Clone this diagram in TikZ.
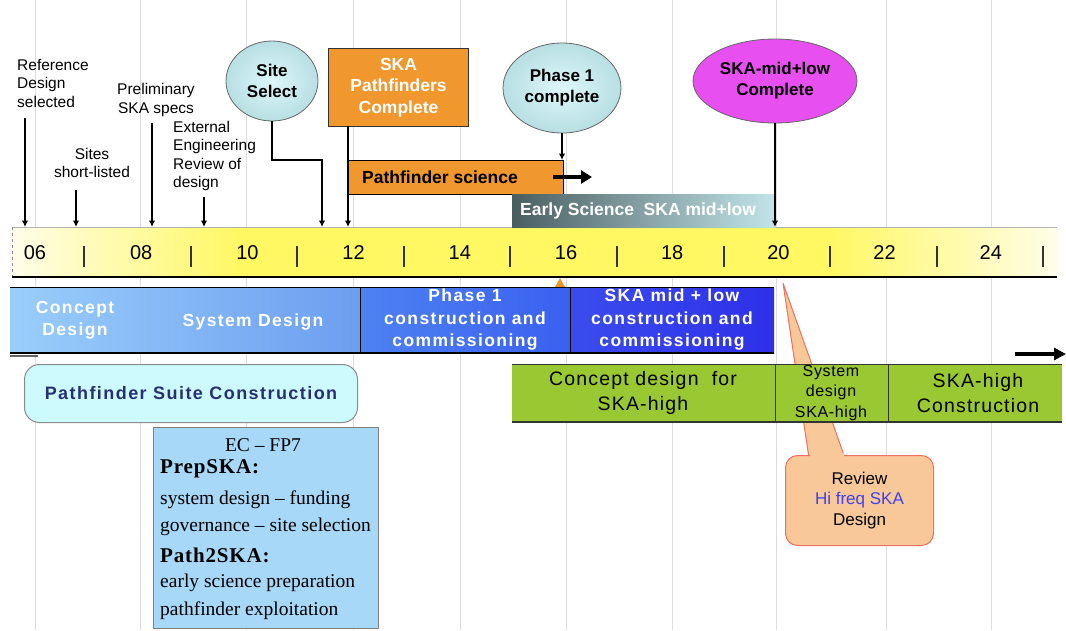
\documentclass[tikz,border=0pt]{standalone}
\usepackage{fontspec}
\setmainfont{Liberation Sans}
\newfontfamily\serifface[Ligatures=TeX]{Liberation Serif}
\usetikzlibrary{arrows.meta,shapes.geometric}
\definecolor{ylw}{HTML}{FFF862}
\definecolor{ylpale}{HTML}{FFFDE8}
\definecolor{orng}{HTML}{F0982E}
\definecolor{cyanlt}{HTML}{B8DFE3}
\definecolor{cyanhi}{HTML}{DDF7FA}
\definecolor{magent}{HTML}{E84FF0}
\definecolor{slate}{HTML}{4A5E62}
\definecolor{slatelt}{HTML}{C2E5E9}
\definecolor{blueA}{HTML}{9ACEFA}
\definecolor{blueB}{HTML}{6C9EF0}
\definecolor{blueC}{HTML}{4E82F2}
\definecolor{blueD}{HTML}{3A60F0}
\definecolor{blueE}{HTML}{3A4CEE}
\definecolor{blueF}{HTML}{2E30E8}
\definecolor{suite}{HTML}{CCFAFD}
\definecolor{suitetx}{HTML}{283070}
\definecolor{grn}{HTML}{9AC832}
\definecolor{ecblue}{HTML}{A8D8F8}
\definecolor{peach}{HTML}{F8C898}
\definecolor{salmon}{HTML}{F07060}
\definecolor{hiblue}{HTML}{4040F0}
\definecolor{gridc}{HTML}{DDDDDD}
\pgfdeclarehorizontalshading{tlshade}{100bp}{color(0bp)=(ylpale); color(25bp)=(ylpale); color(36bp)=(ylw); color(64bp)=(ylw); color(75bp)=(ylpale); color(100bp)=(ylpale)}
\begin{document}
\begin{tikzpicture}[x=1pt,y=-1pt,
  arr/.style={line width=1.6pt,-{Latex[length=6.5pt,width=6.5pt]}},
  toplbl/.style={inner sep=0pt,font=\fontsize{15.5}{18.5}\selectfont},
  bub/.style={ellipse,draw=black!60,line width=0.8pt,inner sep=0pt,align=center,font=\bfseries\fontsize{17}{21}\selectfont},
  barbox/.style={anchor=north west,minimum height=66pt,inner sep=0pt},
  bartx/.style={text=white,align=center,inner sep=0pt,font=\bfseries\fontsize{17.5}{22.5}\selectfont\addfontfeatures{LetterSpace=8}},
  grntx/.style={align=center,inner sep=0pt,font=\fontsize{19.5}{25}\selectfont\addfontfeatures{LetterSpace=6}},
  yr/.style={inner sep=0pt,font=\fontsize{20}{20}\selectfont},
  ectx/.style={anchor=west,inner sep=0pt,font=\serifface\fontsize{19.5}{22}\selectfont},
  ecbold/.style={anchor=west,inner sep=0pt,font=\serifface\bfseries\fontsize{21}{22}\selectfont\addfontfeatures{LetterSpace=4}},
]
\useasboundingbox (0,0) rectangle (1066,630);
\fill[white] (0,0) rectangle (1066,630);
% faint grid
\foreach \x in {35,140,246,353,460,566,672,776,886,991}
  \draw[gridc,line width=1pt] (\x,0) -- (\x,630);

% timeline
\node[anchor=north west,minimum width=1045pt,minimum height=50pt,inner sep=0pt,shading=tlshade,shade] (tl) at (12,227) {};
\draw[black!30] (tl.north west) -- (tl.north east);
\draw[black!45,dashed] (tl.north west) -- (tl.south west);
\draw[line width=2pt] (tl.south west) -- (tl.south east);
\foreach \y [count=\i from 0] in {06,08,10,12,14,16,18,20,22,24}
  \node[yr] (yr\y) at ({35+106.2*\i},253) {\y};
\foreach \i in {0,...,9}
  \draw[line width=2pt,black!80] ({84+106.6*\i},246) -- ++(0,21);

% top labels
\node[toplbl,anchor=west,align=left] (ref) at (17,83) {Reference\\Design\\selected};
\node[toplbl,align=center] (sites) at (92,163) {Sites\\short-listed};
\node[toplbl,align=center] (prel) at (156,100) {Preliminary\\SKA specs};
\node[toplbl,anchor=west,align=left] (ext) at (173,156) {External\\Engineering\\Review of\\design};
\coordinate (refa) at (25,118);
\coordinate (sitesa) at (76,190);
\coordinate (prela) at (152,123);
\coordinate (exta) at (204,197);
\draw[arr] (refa) -- (refa |- tl.north);
\draw[arr] (sitesa) -- (sitesa |- tl.north);
\draw[arr] (prela) -- (prela |- tl.north);
\draw[arr] (exta) -- (exta |- tl.north);

% Site select
\node[bub,inner color=cyanhi,outer color=cyanlt,minimum width=92pt,minimum height=80pt] (site) at (272,81) {Site\\Select};
\coordinate (sitebend) at (322,160);
\draw[arr] (site.south) |- (sitebend) -- (sitebend |- tl.north);

% Pathfinders complete
\node[draw=black!80,line width=1pt,fill=orng,minimum width=140pt,minimum height=78pt,inner sep=0pt,anchor=north west,text=white,align=center,font=\bfseries\fontsize{17.5}{21.5}\selectfont] (pfc) at (328,48) {SKA\\Pathfinders\\Complete};

% Pathfinder science
\node[draw=black,line width=1.4pt,fill=orng,minimum width=215pt,minimum height=34pt,inner sep=0pt,anchor=north west] (pfs) at (348,160) {};
\node[anchor=west,inner sep=0pt,font=\bfseries\fontsize{17.5}{20}\selectfont] (pfst) at (362,177) {Pathfinder science};
\coordinate (pfca) at (348,126);
\draw[arr] (pfca) -- (pfca |- tl.north);
\coordinate (tka) at (553,177);
\coordinate (tkb) at (592,177);
\draw[line width=4.5pt,-{Triangle[length=11pt,width=13pt]}] (tka) -- (tkb);

% Phase 1 complete
\node[bub,inner color=cyanhi,outer color=cyanlt,minimum width=118pt,minimum height=90pt] (ph1) at (562,88) {Phase 1\\complete};
\draw[arr] (ph1.south) -- (ph1.south |- pfs.north);

% Early science
\node[anchor=north west,minimum width=263pt,minimum height=33pt,inner sep=0pt,left color=slate,right color=slatelt] (early) at (512,194) {};
\node[anchor=west,inner sep=0pt,text=white,font=\bfseries\fontsize{17.5}{20}\selectfont] (earlyt) at (520,211) {Early Science\ \ SKA mid+low};

% SKA mid+low complete
\node[bub,fill=magent,minimum width=164pt,minimum height=84pt] (mid) at (775,81) {SKA-mid+low\\Complete};
\draw[arr] (mid.south) -- (mid.south |- tl.north);

% small orange marker
\coordinate (om1) at (555,287);
\coordinate (om2) at (560,278);
\coordinate (om3) at (565,287);
\fill[orng] (om1) -- (om2) -- (om3) -- cycle;

% review pointer wedge (behind)
\coordinate (revtip) at (783,283);
\coordinate (revb1) at (809,458);
\coordinate (revb2) at (845,458);
\filldraw[fill=peach,draw=salmon,line width=1pt] (revb1) -- (revtip) -- (revb2) -- cycle;

% bars
\node[barbox,left color=blueA,right color=blueB,minimum width=350pt] (b1) at (10,287) {};
\node[barbox,left color=blueC,right color=blueD,minimum width=210pt] (b2) at (360,287) {};
\node[barbox,left color=blueE,right color=blueF,minimum width=204pt] (b3) at (570,287) {};
\draw[line width=1pt] (b1.north west) -- (b3.north east);
\draw[line width=1pt] (b2.north west) -- (b2.south west);
\draw[line width=1pt] (b3.north west) -- (b3.south west);
\draw[line width=2pt] (b1.south west) -- (b3.south east);
\coordinate (dl1) at (10,356);
\coordinate (dl2) at (38,356);
\draw[black!60,line width=2pt] (dl1) -- (dl2);
\node[bartx] (cdt) at (75,320) {Concept\\Design};
\node[bartx] (sdt) at (253,322) {System Design};
\node[bartx] (p1t) at (465,320) {Phase 1\\construction and\\commissioning};
\node[bartx] (skt) at (672,320) {SKA mid + low\\construction and\\commissioning};

% right arrow
\coordinate (bra) at (1015,354);
\coordinate (brb) at (1066,354);
\draw[line width=4pt,-{Triangle[length=12pt,width=12pt]}] (bra) -- (brb);

% pathfinder suite
\node[draw=black!45,line width=1pt,fill=suite,rounded corners=15pt,minimum width=333pt,minimum height=58pt,anchor=north west,inner sep=0pt,text=suitetx,font=\bfseries\fontsize{18}{20}\selectfont\addfontfeatures{LetterSpace=8}] (suiteb) at (24,364) {Pathfinder Suite Construction};

% green band
\node[anchor=north west,fill=grn,minimum width=550pt,minimum height=58pt,inner sep=0pt] (gb) at (512,364) {};
\draw[line width=1pt,black!80] (gb.north west) -- (gb.north east);
\draw[line width=1pt,black!80] (775,364) -- (775,422);
\draw[line width=1pt,black!80] (888,364) -- (888,422);
\draw[line width=2pt,black!80] (gb.south west) -- (gb.south east);
\node[grntx] (g1) at (643,393) {Concept design\ \ for\\SKA-high};
\node[align=center,inner sep=0pt,font=\fontsize{16}{20.5}\selectfont\addfontfeatures{LetterSpace=4}] (g2) at (831,393) {System\\design\\SKA-high};
\node[grntx] (g3) at (978,393) {SKA-high\\Construction};

% EC FP7 box
\node[draw=black!50,line width=1pt,fill=ecblue,minimum width=225pt,minimum height=201pt,anchor=north west,inner sep=0pt] (ec) at (153,427) {};
\node[inner sep=0pt,font=\serifface\fontsize{19.5}{22}\selectfont] (ect) at (263,445) {EC – FP7};
\node[ecbold] (ec1) at (160,469) {PrepSKA:};
\node[ectx] (ec2) at (160,500) {system design – funding};
\node[ectx] (ec3) at (160,527) {governance – site selection};
\node[ecbold] (ec4) at (160,555) {Path2SKA:};
\node[ectx] (ec5) at (160,583) {early science preparation};
\node[ectx] (ec6) at (160,611) {pathfinder exploitation};

% review callout
\node[draw=salmon,line width=1pt,fill=peach,rounded corners=12pt,minimum width=148pt,minimum height=90pt,anchor=north west,inner sep=0pt,align=center,font=\fontsize{17}{20.5}\selectfont] (rev) at (785,455) {Review\\\textcolor{hiblue}{Hi freq SKA}\\Design};
\fill[peach] (810,453) rectangle (844,460);
\end{tikzpicture}
\end{document}
